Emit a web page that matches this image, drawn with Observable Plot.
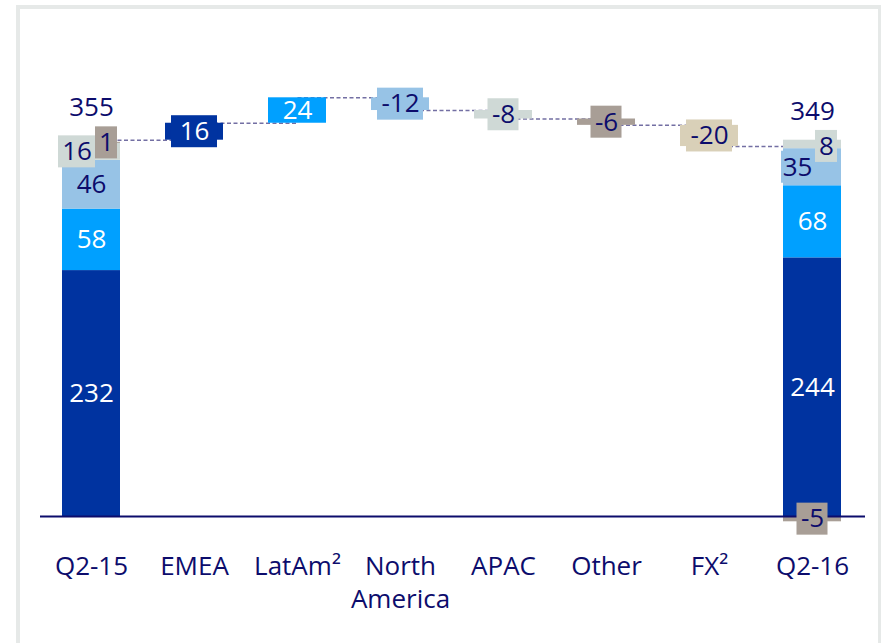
<!DOCTYPE html>
<html><head><meta charset="utf-8">
<script src="https://cdn.jsdelivr.net/npm/d3@7"></script>
<script src="https://cdn.jsdelivr.net/npm/@observablehq/plot@0.6"></script>
<style>
body{margin:0;background:#fff;}
#wrap{position:relative;width:881px;height:643px;overflow:hidden;}
#chart{position:absolute;left:0;top:0;}
#frame{position:absolute;left:16px;top:5px;width:858px;height:700px;border-top:4px solid #e6e9e8;border-left:4px solid #e6e9e8;border-right:3px solid #e6e9e8;pointer-events:none;}
</style></head><body>
<div id="wrap"><div id="chart"></div><div id="frame"></div></div>
<script>
// ---- data ----
const categories = ["Q2-15","EMEA","LatAm²","North\nAmerica","APAC","Other","FX²","Q2-16"];
const regions = ["EMEA","LatAm","North America","APAC","Other","FX"];
const regionColors = ["#0033a0","#00a0ff","#97c3e6","#cfd9d6","#a89e96","#d9d0b8"];
const q215Values = [232, 58, 46, 16, 1];     // EMEA, LatAm, North America, APAC, Other
const q216Values = [244, 68, 35, 8, -5];
const totalValues = [355, 349];
const bridgeValues = [16, 24, -12, -8, -6, -20]; // EMEA, LatAm, North America, APAC, Other, FX

// ---- layout ----
const navy = "#0c0c6c";
const W = 881, H = 643, mL = 62, mR = 40, mT = 92, mB = 127, padIn = 0.437;
const yMax = 400;
const pxPerUnit = (H - mT - mB) / yMax;
const step = (W - mL - mR) / (categories.length - padIn);
const bw = step * (1 - padIn);
const boxH = 32 / pxPerUnit;
const whiteText = new Set(["EMEA","LatAm"]);

function stackBar(cat, vals) {
  let pos = 0, neg = 0;
  return vals.map((v, i) => {
    let y1, y2;
    if (v >= 0) { y1 = pos; y2 = pos + v; pos = y2; } else { y1 = neg; y2 = neg + v; neg = y2; }
    return {cat, region: regions[i], value: v, y1, y2, mid: (y1 + y2) / 2};
  });
}
const stacks = [...stackBar(categories[0], q215Values), ...stackBar(categories[7], q216Values)];

let level = totalValues[0];
const bridge = bridgeValues.map((v, i) => {
  const d = {cat: categories[i + 1], region: regions[i], value: v, y1: level, y2: level + v, mid: level + v / 2};
  level += v;
  return d;
});
const links = [{a: categories[0], b: categories[1], y: totalValues[0]}]
  .concat(bridge.map((d, i) => ({a: d.cat, b: categories[i + 2], y: d.y2})));

// small stacked labels drawn in offset boxes
const stackLabelLayout = {
  "Q2-15|APAC": {dx: -14.5, dy: 0, w: 37},
  "Q2-15|Other": {dx: 15, dy: 0, w: 22},
  "Q2-16|North America": {dx: -15, dy: 0, w: 32},
  "Q2-16|APAC": {dx: 14, dy: 2, w: 22},
  "Q2-16|Other": {dx: 0, dy: 0, w: 31}
};

const labelMarks = [];
function boxedLabel(d, dx, dy, w) {
  const ins = (bw - w) / 2;
  labelMarks.push(Plot.rect([d], {x: "cat", y1: d.mid - boxH / 2, y2: d.mid + boxH / 2,
    fill: "region", insetLeft: ins + dx, insetRight: ins - dx, insetTop: dy, insetBottom: -dy}));
  labelMarks.push(Plot.text([d], {x: "cat", y: "mid", text: x => String(x.value), dx, dy,
    fill: whiteText.has(d.region) ? "white" : navy}));
}
function plainLabel(d) {
  labelMarks.push(Plot.text([d], {x: "cat", y: "mid", text: x => String(x.value),
    fill: whiteText.has(d.region) ? "white" : navy}));
}
for (const d of stacks) {
  const key = (d.cat) + "|" + d.region;
  const lay = stackLabelLayout[key];
  if (lay) boxedLabel(d, lay.dx, lay.dy, lay.w); else plainLabel(d);
}
for (const d of bridge) {
  if (Math.abs(d.value) <= 20) {
    const digits = String(Math.abs(d.value)).length;
    boxedLabel(d, 0, 0, 16 + 15 * digits);
  } else plainLabel(d);
}

const chart = Plot.plot({
  width: W, height: H,
  marginLeft: mL, marginRight: mR, marginTop: mT, marginBottom: mB,
  style: {fontFamily: "'Open Sans', sans-serif", fontSize: "26px", background: "transparent", overflow: "visible"},
  x: {type: "band", domain: categories, paddingInner: padIn, paddingOuter: 0, axis: null},
  y: {domain: [0, yMax], axis: null},
  color: {domain: regions, range: regionColors},
  marks: [
    Plot.link(links, {x1: "a", x2: "b", y1: "y", y2: "y", stroke: "#736fa3", strokeWidth: 1.5, strokeDasharray: "4,2.5"}),
    Plot.rectY(stacks, {x: "cat", y1: "y1", y2: "y2", fill: "region"}),
    Plot.rectY(bridge, {x: "cat", y1: "y1", y2: "y2", fill: "region"}),
    Plot.ruleY([0], {stroke: navy, strokeWidth: 2, insetLeft: -22, insetRight: -24}),
    ...labelMarks,
    Plot.text([totalValues[0]], {x: () => categories[0], y: d => d, text: d => String(d), dy: -33, fill: navy}),
    Plot.text([totalValues[1]], {x: () => categories[7], y: d => d, text: d => String(d), dy: -35, fill: navy}),
    Plot.text(categories, {x: d => d, text: d => d, frameAnchor: "bottom", dy: 35, lineAnchor: "top", lineHeight: 1.27, fill: navy})
  ]
});
document.getElementById("chart").appendChild(chart);
</script>
</body></html>
